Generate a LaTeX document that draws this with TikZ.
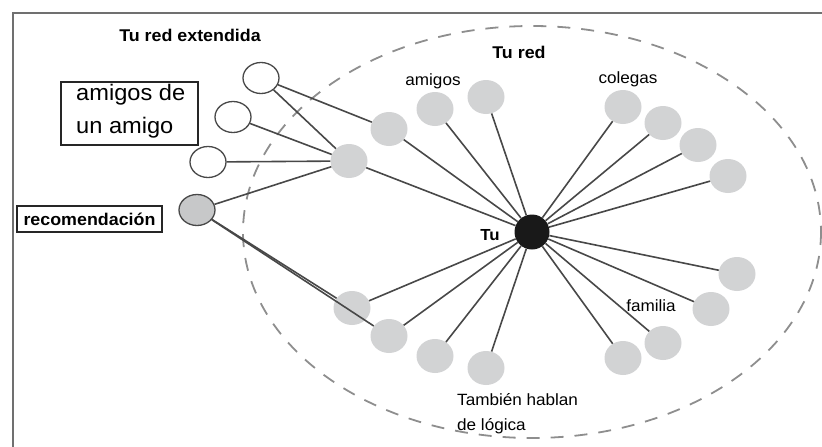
\documentclass[tikz,border=0pt]{standalone}
\usepackage{fontspec}
\setmainfont{Liberation Sans}[FakeStretch=1.05]
\usetikzlibrary{shapes.geometric}
\definecolor{edgegray}{HTML}{484848}
\definecolor{peer}{HTML}{D2D3D4}
\definecolor{ringgray}{HTML}{8E8E8E}
\definecolor{framegray}{HTML}{707070}
\begin{document}
\begin{tikzpicture}[x=1pt,y=-1pt,
  peernode/.style={ellipse,fill=peer,minimum width=37pt,minimum height=34pt,inner sep=0pt},
  extnode/.style={ellipse,draw=edgegray,line width=1.3pt,fill=white,minimum width=36pt,minimum height=31pt,inner sep=0pt},
  recnode/.style={ellipse,draw=edgegray,line width=1.3pt,fill=peer!95!black,minimum width=36pt,minimum height=31pt,inner sep=0pt},
  selfnode/.style={ellipse,fill=black!90,minimum width=35pt,minimum height=35pt,inner sep=0pt},
  link/.style={draw=edgegray,line width=1.6pt},
  boldlab/.style={font=\fontsize{17}{20}\selectfont\bfseries,inner sep=0pt},
  smalllab/.style={font=\fontsize{16.3}{25}\selectfont,inner sep=0pt},
  tagbox/.style={draw=black!85,line width=1.4pt,inner sep=0pt}
]
\useasboundingbox (0,0) rectangle (822,447);
% open frame (continues past the page edges)
\begin{scope}
\clip (0,0) rectangle (822,447);
\draw[framegray,line width=2pt] (12.5,460) -- (12.5,12.5) -- (840,12.5);
\end{scope}

% dashed circle of the own network
\draw[ringgray,line width=1.8pt,dash pattern=on 13pt off 11pt] (532,232) ellipse [x radius=289,y radius=206];

% centre
\node[selfnode] (tu) at (532,232) {};

% own network
\node[peernode] (h)  at (349,161) {};
\node[peernode] (a1) at (389,129) {};
\node[peernode] (a2) at (435,109) {};
\node[peernode] (a3) at (486,97) {};
\node[peernode] (c1) at (623,107) {};
\node[peernode] (c2) at (663,123) {};
\node[peernode] (c3) at (698,145) {};
\node[peernode] (c4) at (728,176) {};
\node[peernode] (r1) at (737,274) {};
\node[peernode] (r2) at (711,309) {};
\node[peernode] (r3) at (663,343) {};
\node[peernode] (r4) at (623,358) {};
\node[peernode] (l1) at (352,308) {};
\node[peernode] (l2) at (389,336) {};
\node[peernode] (l3) at (435,356) {};
\node[peernode] (l4) at (486,368) {};

% extended network
\node[extnode] (w1) at (261,78) {};
\node[extnode] (w2) at (233,117) {};
\node[extnode] (w3) at (208,162) {};
\node[recnode] (rec) at (197,210) {};

% connections
\foreach \n in {h,a1,a2,a3,c1,c2,c3,c4,r1,r2,r3,r4,l1,l2,l3,l4}
  \draw[link] (\n) -- (tu);
\draw[link] (w1) -- (a1);
\draw[link] (w1) -- (h);
\draw[link] (w2) -- (h);
\draw[link] (w3) -- (h);
\draw[link] (rec) -- (h);
\draw[link] (rec) -- (l1);
\draw[link] (rec) -- (l2);

% labels
\node[boldlab] (ttlext) at (190,35) {Tu red extendida};
\node[boldlab] (ttlred) at (519,52) {Tu red};
\node[smalllab] (lbamigos) at (433,81) {amigos};
\node[smalllab] (lbcolegas) at (628,79) {colegas};
\node[smalllab] (lbfamilia) at (651,306) {familia};
\node[boldlab,font=\fontsize{16}{20}\selectfont\bfseries] (lbtu) at (490,235) {Tu};
\node[smalllab,anchor=north west,align=left] (lblogica) at (457,393) {También hablan\\de lógica};

\node[tagbox,minimum width=137pt,minimum height=63pt] (boxamigo) at (129.5,113.5) {};
\node[font=\fontsize{22.5}{33}\selectfont,anchor=north west,align=left,inner sep=0pt] (txamigo) at (76,84) {amigos de\\un amigo};
\node[tagbox,minimum width=145pt,minimum height=26pt,boldlab] (boxrec) at (89.5,219) {recomendación};
\end{tikzpicture}
\end{document}
